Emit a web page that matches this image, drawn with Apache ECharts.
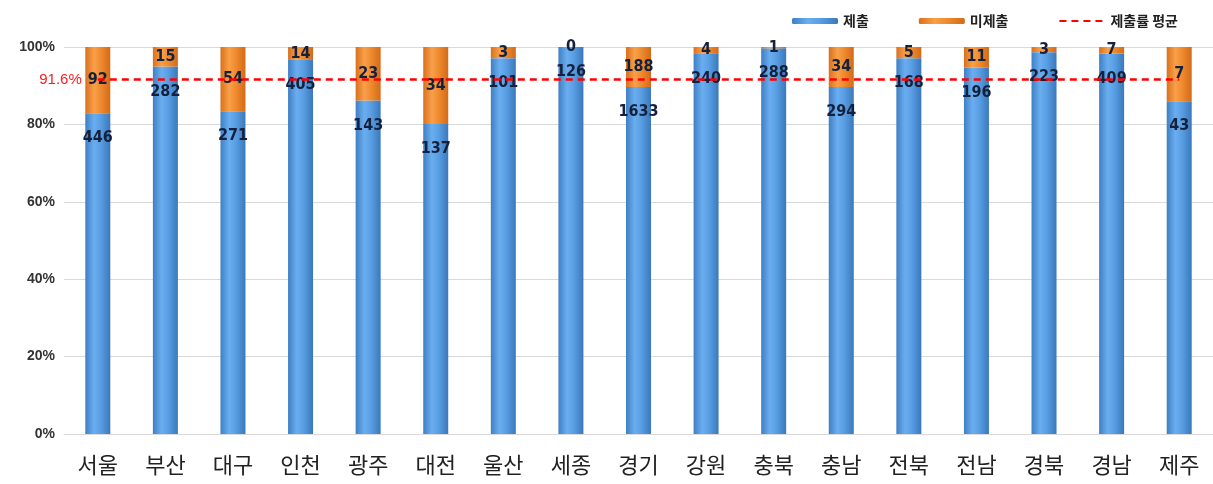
<!DOCTYPE html>
<html><head><meta charset="utf-8">
<script src="https://cdn.jsdelivr.net/npm/echarts@6/dist/echarts.min.js"></script>
<style>html,body{margin:0;padding:0;background:#fff}#c{width:1213px;height:484px}</style>
</head><body><div id="c"></div>
<script>
const categories = ['서울','부산','대구','인천','광주','대전','울산','세종','경기','강원','충북','충남','전북','전남','경북','경남','제주'];
const submitted = [446,282,271,405,143,137,101,126,1633,240,288,294,168,196,223,409,43];
const notSubmitted = [92,15,54,14,23,34,3,0,188,4,1,34,5,11,3,7,7];
const avgRate = 91.6;

const totals = submitted.map((v,i)=>v+notSubmitted[i]);
const subPct = submitted.map((v,i)=>v/totals[i]*100);
const notPct = notSubmitted.map((v,i)=>v/totals[i]*100);
const avgLine = categories.map(()=>avgRate);

const blueGrad = new echarts.graphic.LinearGradient(0,0,1,0,[
  {offset:0,color:'#3f7fc4'},{offset:0.35,color:'#6aaef0'},{offset:0.6,color:'#5a9fe4'},{offset:1,color:'#3a78bb'}]);
const orangeGrad = new echarts.graphic.LinearGradient(0,0,1,0,[
  {offset:0,color:'#d9701c'},{offset:0.35,color:'#f9a04a'},{offset:0.6,color:'#f08c30'},{offset:1,color:'#d36a18'}]);

const labelFont = {fontFamily:'"Liberation Sans Narrow","DejaVu Sans Condensed","Liberation Sans",sans-serif', fontWeight:'bold', fontSize:16, color:'#14213d'};

const chart = echarts.init(document.getElementById('c'), null, {renderer:'canvas'});
chart.setOption({
  animation:false,
  textStyle:{fontFamily:'"Noto Sans CJK KR","Noto Sans",sans-serif'},
  legend:{
    top:9, right:30, itemGap:50, itemWidth:46, itemHeight:6,
    textStyle:{fontSize:14, fontWeight:'bold', color:'#222', fontFamily:'"Noto Sans CJK KR",sans-serif'},
    data:[{name:'제출'},{name:'미제출'},{name:'제출률 평균', itemStyle:{opacity:0}}]
  },
  grid:{left:64, right:0, top:47, bottom:50, containLabel:false},
  xAxis:{
    type:'category', data:categories,
    axisLine:{show:true, lineStyle:{color:'#d9d9d9'}}, axisTick:{show:false},
    axisLabel:{fontSize:22, color:'#222', margin:20, fontFamily:'"Noto Sans CJK KR",sans-serif'}
  },
  yAxis:{
    type:'value', min:0, max:100, interval:20,
    axisLabel:{formatter:'{value}%', fontSize:14, fontWeight:'bold', color:'#333', margin:9, fontFamily:'"Liberation Sans",Arial,sans-serif'},
    splitLine:{lineStyle:{color:'#d9d9d9', width:1}},
    axisLine:{show:false}, axisTick:{show:false}
  },
  series:[
    {name:'제출', type:'bar', stack:'s', barWidth:25, data:subPct,
     itemStyle:{color:blueGrad},
     label:{show:true, position:'insideTop', distance:17, ...labelFont,
       formatter:p=>String(submitted[p.dataIndex])}},
    {name:'미제출', type:'bar', stack:'s', barWidth:25, data:notPct,
     itemStyle:{color:orangeGrad},
     label:{show:true, position:'inside', ...labelFont,
       formatter:p=>String(notSubmitted[p.dataIndex])}},
    {name:'제출률 평균', type:'line', data:avgLine, symbol:'circle', symbolSize:0, showSymbol:true, z:5,
     lineStyle:{color:'#ff0000', type:[7,5], width:2.5}, itemStyle:{color:'#ff0000'},
     label:{show:true, position:'left', distance:16, color:'#ff1a1a', fontSize:15, fontFamily:'"Liberation Sans",Arial,sans-serif',
       formatter:p=>p.dataIndex===0?avgRate+'%':''}}
  ]
});
</script></body></html>
